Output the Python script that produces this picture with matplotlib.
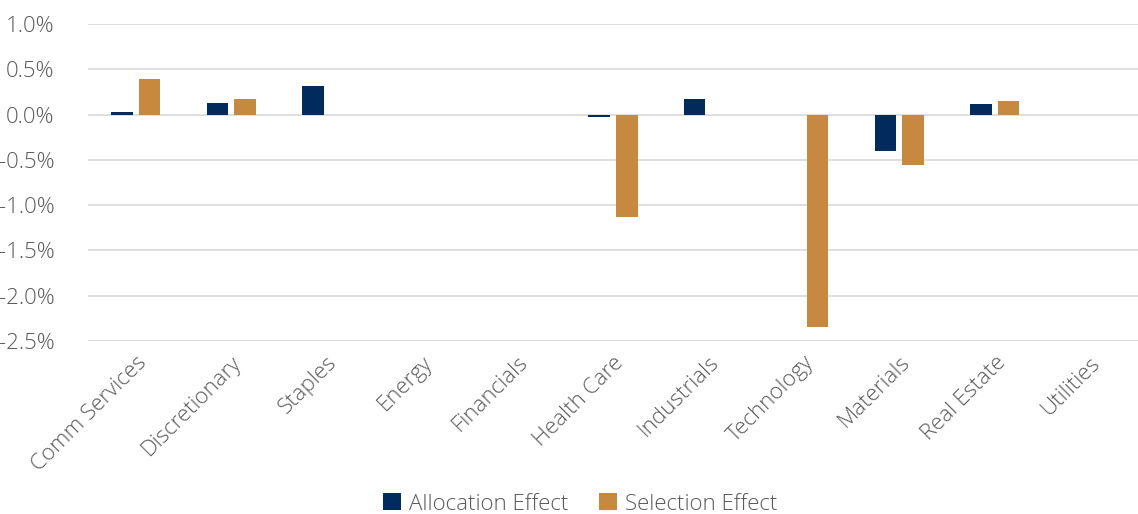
import matplotlib
matplotlib.use("Agg")
import matplotlib.pyplot as plt
import numpy as np
from matplotlib.ticker import FuncFormatter, MultipleLocator

categories = ["Comm Services", "Discretionary", "Staples", "Energy", "Financials",
              "Health Care", "Industrials", "Technology", "Materials", "Real Estate", "Utilities"]
allocation = [0.03, 0.13, 0.32, -0.01, 0.0, -0.03, 0.17, 0.0, -0.40, 0.12, -0.01]
selection = [0.39, 0.17, 0.0, 0.0, 0.0, -1.13, 0.0, -2.34, -0.56, 0.145, 0.0]
series_names = ["Allocation Effect", "Selection Effect"]

plt.rcParams['font.family'] = ['Open Sans', 'DejaVu Sans']
plt.rcParams['font.weight'] = 'light'
text_color = "#595959"

fig = plt.figure(figsize=(11.38, 5.14), dpi=100)
ax = fig.add_axes([88/1138, 1 - 341/514, 1050/1138, (341-24)/514])

x = np.arange(len(categories))
w = 0.225
off = 0.145
ax.bar(x - off, allocation, w, color="#002B5C", label=series_names[0], zorder=3)
ax.bar(x + off, selection, w, color="#C6893F", label=series_names[1], zorder=3)

ax.set_xlim(-0.5, len(categories) - 0.5)
ax.set_ylim(-2.5, 1.0)
ax.yaxis.set_major_locator(MultipleLocator(0.5))
ax.yaxis.set_major_formatter(FuncFormatter(lambda v, p: f"{v:.1f}%"))
ax.grid(axis="y", color="#D9D9D9", linewidth=1.2, zorder=0)
for s in ax.spines.values():
    s.set_visible(False)
ax.tick_params(axis="both", length=0, colors=text_color, labelsize=16)
ax.tick_params(axis="y", pad=24)
ax.set_xticks(x)
ax.set_xticklabels(categories, rotation=45, ha="right", rotation_mode="anchor", fontsize=16, color=text_color)
ax.tick_params(axis="x", pad=8)

leg = fig.legend(loc="lower center", bbox_to_anchor=(0.51, -0.04), ncol=2, frameon=False,
                 fontsize=16, handlelength=0.8, handleheight=0.8, columnspacing=1.4, handletextpad=0.35)
for t in leg.get_texts():
    t.set_color(text_color)

fig.savefig("out.png", dpi=100)
